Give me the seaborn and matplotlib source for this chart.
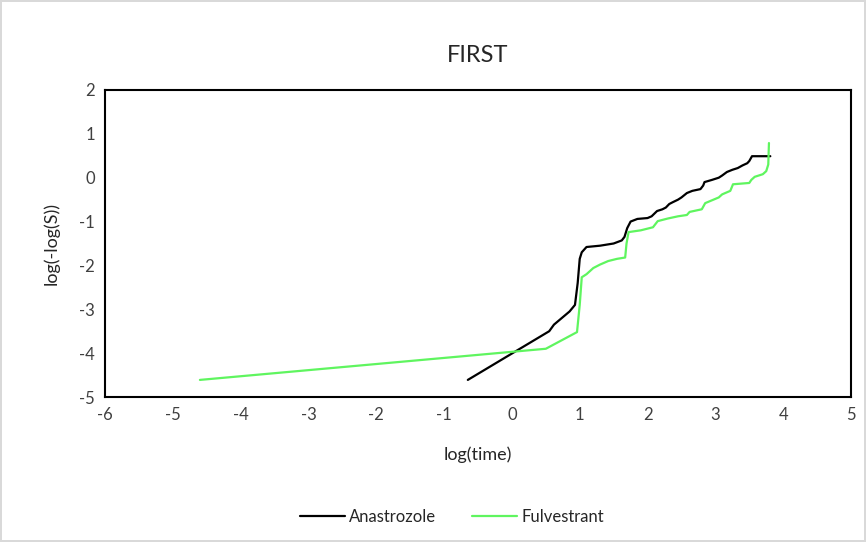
import pandas as pd
import matplotlib.pyplot as plt
import seaborn as sns

# data
anastrozole_x = [-0.65, 0.55, 0.62, 0.85, 0.93, 0.97, 1.0, 1.03, 1.1, 1.3, 1.5, 1.62, 1.66, 1.7,
                 1.75, 1.85, 2.0, 2.06, 2.1, 2.14, 2.22, 2.27, 2.32, 2.37, 2.45, 2.5, 2.58, 2.66,
                 2.78, 2.82, 2.84, 2.95, 3.05, 3.1, 3.17, 3.25, 3.33, 3.4, 3.47, 3.5, 3.54, 3.81]
anastrozole_y = [-4.61, -3.5, -3.35, -3.05, -2.9, -2.4, -1.85, -1.7, -1.58, -1.55, -1.5, -1.43,
                 -1.35, -1.15, -1.0, -0.94, -0.92, -0.88, -0.82, -0.76, -0.72, -0.68, -0.6, -0.56,
                 -0.5, -0.45, -0.35, -0.3, -0.26, -0.18, -0.1, -0.05, 0.0, 0.05, 0.13, 0.18, 0.22,
                 0.28, 0.33, 0.38, 0.49, 0.49]

fulvestrant_x = [-4.6, 0.5, 0.96, 1.0, 1.03, 1.1, 1.2, 1.3, 1.42, 1.55, 1.67, 1.69, 1.72, 1.9,
                 2.08, 2.12, 2.15, 2.3, 2.45, 2.58, 2.62, 2.8, 2.85, 3.05, 3.1, 3.22, 3.26, 3.5,
                 3.53, 3.58, 3.7, 3.75, 3.78, 3.79]
fulvestrant_y = [-4.61, -3.9, -3.52, -2.9, -2.27, -2.2, -2.06, -1.98, -1.9, -1.85, -1.82, -1.5,
                 -1.24, -1.2, -1.13, -1.05, -0.99, -0.93, -0.88, -0.85, -0.78, -0.72, -0.58,
                 -0.45, -0.38, -0.3, -0.15, -0.12, -0.05, 0.02, 0.08, 0.15, 0.3, 0.79]

x_ticks = [-6, -5, -4, -3, -2, -1, 0, 1, 2, 3, 4, 5]
y_ticks = [-5, -4, -3, -2, -1, 0, 1, 2]

df = pd.concat([
    pd.DataFrame({"x": anastrozole_x, "y": anastrozole_y, "drug": "Anastrozole"}),
    pd.DataFrame({"x": fulvestrant_x, "y": fulvestrant_y, "drug": "Fulvestrant"}),
], ignore_index=True)

sns.set_style("white")
plt.rcParams['font.family'] = ['Lato', 'DejaVu Sans']
plt.rcParams['axes.unicode_minus'] = False

fig = plt.figure(figsize=(8.66, 5.42), dpi=100)
fig.patch.set_edgecolor('#d9d9d9')
fig.patch.set_linewidth(1.5)
ax = fig.add_axes([0.1212, 0.2675, 0.8615, 0.5665])

sns.lineplot(data=df, x="x", y="y", hue="drug", sort=False, estimator=None,
             palette={"Anastrozole": "black", "Fulvestrant": "#5ff55f"},
             linewidth=1.6, ax=ax)

ax.set_xlim(-6, 5)
ax.set_ylim(-5, 2)
ax.set_xticks(x_ticks)
ax.set_yticks(y_ticks)
ax.tick_params(length=0, labelsize=12, colors='#404040', pad=7)
for s in ax.spines.values():
    s.set_color('black')
    s.set_linewidth(1.5)

ax.set_title("FIRST", fontsize=17, color='#262626', pad=20)
ax.set_xlabel("log(time)", fontsize=13, color='#262626', labelpad=17)
ax.set_ylabel("log(-log(S))", fontsize=13, color='#262626', labelpad=14)

ax.legend(loc='upper center', bbox_to_anchor=(0.465, -0.315), ncol=2, frameon=False,
          fontsize=12, handlelength=2.7, handletextpad=0.25, columnspacing=2.2, title=None)

plt.savefig("out.png", dpi=100)
plt.close()
